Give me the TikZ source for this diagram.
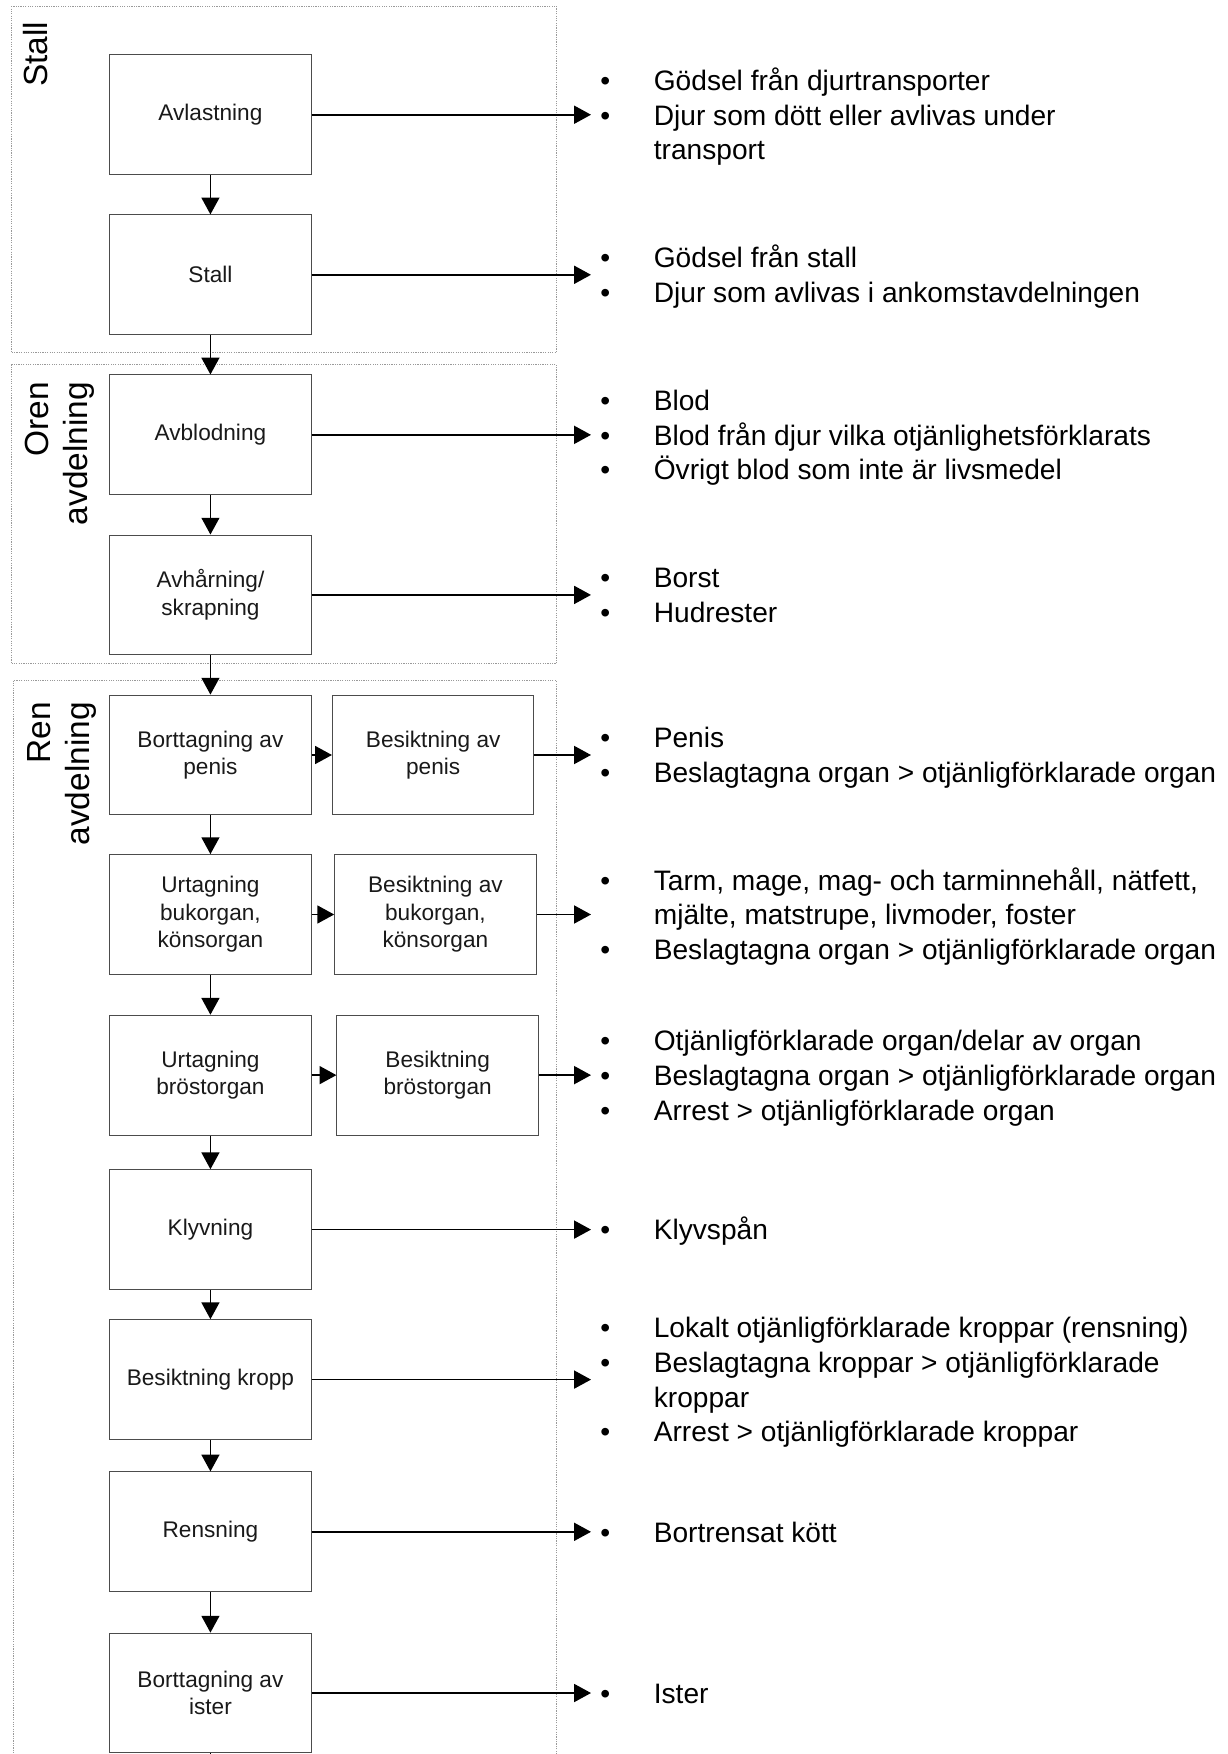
\documentclass[tikz,border=0pt]{standalone}
\usepackage{fontspec}
\setmainfont{Liberation Sans}
\usetikzlibrary{arrows.meta}
\tikzset{
  steg/.style={draw=black!70, line width=0.5pt, minimum width=36mm, minimum height=21.4mm, inner sep=0pt, align=center, text=black!90, font=\fontsize{11.5}{14}\selectfont},
  pil/.style={-{Triangle[length=3mm,width=3.2mm]}, line width=0.8pt},
  grupp/.style={draw=black!40, line width=0.6pt, dash pattern=on 0.6pt off 0.6pt},
  rubrik/.style={rotate=90, anchor=north east, align=right, inner sep=0pt, font=\fontsize{17}{20}\selectfont},
  lista/.style={anchor=west, yshift=-0.6mm, inner xsep=1.6mm, inner ysep=0pt, font=\fontsize{14.3}{17.6}\selectfont},
}
\newcommand{\punkter}[1]{\begin{tabular}{@{}l@{\hspace{7.8mm}}l@{}}#1\end{tabular}}
\begin{document}
\begin{tikzpicture}[x=0.2mm,y=-0.2mm]
\useasboundingbox (0,0) rectangle (1097,1567);
\draw[grupp] (10,5.5) rectangle (497,315);
\draw[grupp] (10,325.5) rectangle (497,593);
\draw[grupp] (12,608) rectangle (497,1620);
\node[rubrik] (stallrubrik) at (20,19) {Stall};
\node[rubrik] (orenrubrik) at (22,341) {Oren\\avdelning};
\node[rubrik] (renrubrik) at (24,627) {Ren\\avdelning};

\node[steg] (avlastning) at (188,102.5) {Avlastning};
\node[steg] (stall) at (188,245.5) {Stall};
\node[steg] (avblodning) at (188,388.5) {Avblodning};
\node[steg] (avharning) at (188,531.5) {Avhårning/\\skrapning};
\node[steg] (bortpenis) at (188,674.5) {Borttagning av\\penis};
\node[steg] (urtbuk) at (188,817) {Urtagning\\bukorgan,\\könsorgan};
\node[steg] (urtbrost) at (188,960.5) {Urtagning\\bröstorgan};
\node[steg] (klyvning) at (188,1098.5) {Klyvning};
\node[steg] (besikkropp) at (188,1232.5) {Besiktning kropp};
\node[steg] (rensning) at (188,1368.5) {Rensning};
\node[steg] (ister) at (188,1512.5) {Borttagning av\\ister};
\node[steg] (besikpenis) at (387,674.5) {Besiktning av\\penis};
\node[steg] (besikbuk) at (389,817) {Besiktning av\\bukorgan,\\könsorgan};
\node[steg] (besikbrost) at (391,960.5) {Besiktning\\bröstorgan};
\coordinate (nedan) at (188,1640);

\node[lista] (avlastningut) at (528,102.5) {\punkter{\textbullet & Gödsel från djurtransporter\\ \textbullet & Djur som dött eller avlivas under\\ & transport}};
\node[lista] (stallut) at (528,245.5) {\punkter{\textbullet & Gödsel från stall\\ \textbullet & Djur som avlivas i ankomstavdelningen}};
\node[lista] (avblodningut) at (528,388.5) {\punkter{\textbullet & Blod\\ \textbullet & Blod från djur vilka otjänlighetsförklarats\\ \textbullet & Övrigt blod som inte är livsmedel}};
\node[lista] (avharningut) at (528,531.5) {\punkter{\textbullet & Borst\\ \textbullet & Hudrester}};
\node[lista] (penisut) at (528,674.5) {\punkter{\textbullet & Penis\\ \textbullet & Beslagtagna organ > otjänligförklarade organ}};
\node[lista] (bukut) at (528,817) {\punkter{\textbullet & Tarm, mage, mag- och tarminnehåll, nätfett,\\ & mjälte, matstrupe, livmoder, foster\\ \textbullet & Beslagtagna organ > otjänligförklarade organ}};
\node[lista] (brostut) at (528,960.5) {\punkter{\textbullet & Otjänligförklarade organ/delar av organ\\ \textbullet & Beslagtagna organ > otjänligförklarade organ\\ \textbullet & Arrest > otjänligförklarade organ}};
\node[lista] (klyvningut) at (528,1098.5) {\punkter{\textbullet & Klyvspån}};
\node[lista] (kropput) at (528,1232.5) {\punkter{\textbullet & Lokalt otjänligförklarade kroppar (rensning)\\ \textbullet & Beslagtagna kroppar > otjänligförklarade\\ & kroppar\\ \textbullet & Arrest > otjänligförklarade kroppar}};
\node[lista] (rensningut) at (528,1368.5) {\punkter{\textbullet & Bortrensat kött}};
\node[lista] (isterut) at (528,1512.5) {\punkter{\textbullet & Ister}};

\foreach \a/\b in {avlastning/stall, stall/avblodning, avblodning/avharning, avharning/bortpenis, bortpenis/urtbuk, urtbuk/urtbrost, urtbrost/klyvning, klyvning/besikkropp, besikkropp/rensning, rensning/ister, ister/nedan, bortpenis/besikpenis, urtbuk/besikbuk, urtbrost/besikbrost}
  \draw[pil] (\a) -- (\b);
\foreach \a/\b in {avlastning/avlastningut, stall/stallut, avblodning/avblodningut, avharning/avharningut, besikpenis/penisut, besikbuk/bukut, besikbrost/brostut, klyvning/klyvningut, besikkropp/kropput, rensning/rensningut, ister/isterut}
  \draw[pil] (\a) -- (\a -| \b.west);
\end{tikzpicture}
\end{document}
